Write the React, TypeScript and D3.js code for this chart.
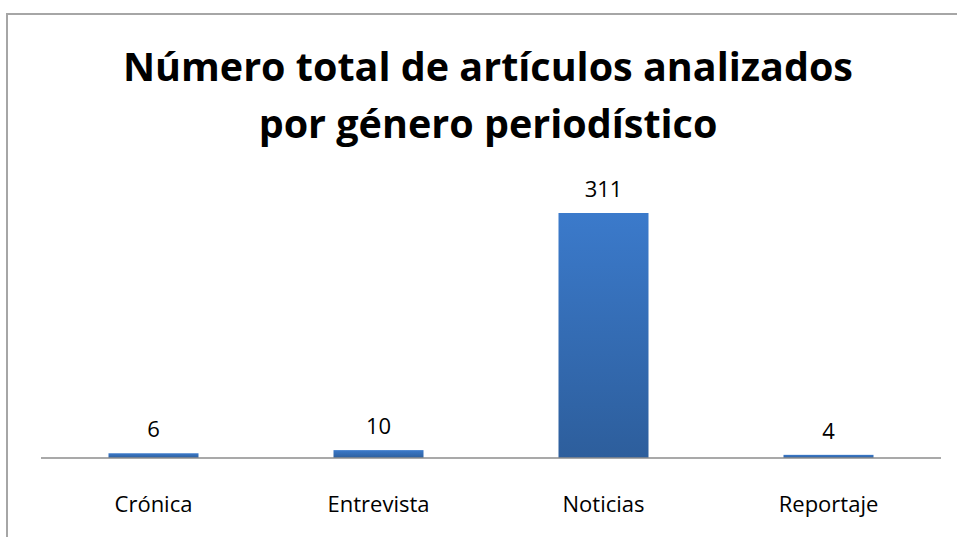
import React from 'react'
import * as d3 from 'd3'

const categories = ['Crónica', 'Entrevista', 'Noticias', 'Reportaje']
const values = [6, 10, 311, 4]
const titleLines = ['Número total de artículos analizados', 'por género periodístico']

const W = 957
const H = 537
const FONT = '"Open Sans", "DejaVu Sans", sans-serif'

export default function App() {
  const x = d3
    .scaleBand<string>()
    .domain(categories)
    .range([41, 941])
    .paddingInner(0.6)
    .paddingOuter(0.3)

  const y = d3.scaleLinear().domain([0, 311]).range([458, 213])

  return (
    <svg
      width={W}
      height={H}
      style={{ position: 'absolute', left: 0, top: 0, background: '#fff' }}
    >
      <defs>
        <linearGradient id="barFill" x1="0" y1="0" x2="0" y2="1">
          <stop offset="0%" stopColor="#3b7acb" />
          <stop offset="100%" stopColor="#2d5e9c" />
        </linearGradient>
      </defs>
      {/* chart frame */}
      <path d={`M7,${H} V14 H${W}`} fill="none" stroke="#a6a6a6" strokeWidth={2} />

      {titleLines.map((t, i) => (
        <text
          key={t}
          x={488}
          y={81 + i * 57}
          textAnchor="middle"
          fontFamily={FONT}
          fontWeight="bold"
          fontSize={39.5}
          fill="#000"
        >
          {t}
        </text>
      ))}

      {categories.map((c, i) => {
        const v = values[i]
        const bx = x(c) as number
        return (
          <g key={c}>
            <rect
              x={bx}
              y={y(v)}
              width={x.bandwidth()}
              height={y(0) - y(v)}
              fill="url(#barFill)"
            />
            <text
              x={bx + x.bandwidth() / 2}
              y={y(v) - 16}
              textAnchor="middle"
              fontFamily={FONT}
              fontSize={22}
              fill="#000"
            >
              {v}
            </text>
            <text
              x={bx + x.bandwidth() / 2}
              y={512}
              textAnchor="middle"
              fontFamily={FONT}
              fontSize={22}
              fill="#000"
            >
              {c}
            </text>
          </g>
        )
      })}

      <line x1={41} x2={941} y1={y(0)} y2={y(0)} stroke="#8c8c8c" strokeWidth={1.5} />
    </svg>
  )
}
